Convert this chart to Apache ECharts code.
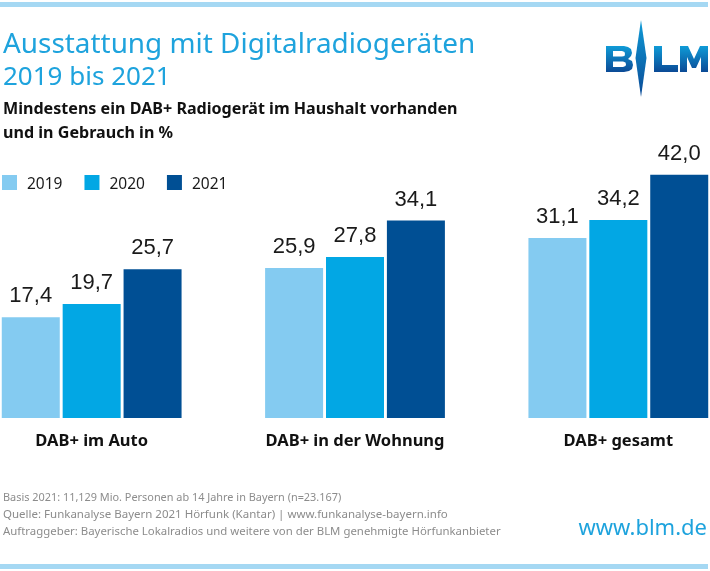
<!DOCTYPE html>
<html>
<head>
<meta charset="utf-8">
<script src="https://cdn.jsdelivr.net/npm/echarts@6/dist/echarts.min.js"></script>
<style>
  html, body { margin: 0; padding: 0; background: #fff; }
  #main { width: 710px; height: 571px; }
</style>
</head>
<body>
<div id="main"></div>
<script>
var categories = ["DAB+ im Auto", "DAB+ in der Wohnung", "DAB+ gesamt"];
var values2019 = [17.4, 25.9, 31.1];
var values2020 = [19.7, 27.8, 34.2];
var values2021 = [25.7, 34.1, 42.0];
var footnotes = [
  "Basis 2021: 11,129 Mio. Personen ab 14 Jahre in Bayern (n=23.167)",
  "Quelle: Funkanalyse Bayern 2021 Hörfunk (Kantar) | www.funkanalyse-bayern.info",
  "Auftraggeber: Bayerische Lokalradios und weitere von der BLM genehmigte Hörfunkanbieter"
];
var font = "Noto Sans";
var logoBlue = new echarts.graphic.LinearGradient(0, 0, 0, 1, [
  { offset: 0, color: "#0f9bd7" },
  { offset: 1, color: "#0b4a96" }
]);

function barSeries(name, data, color) {
  return {
    name: name,
    type: "bar",
    data: data,
    barWidth: 58,
    barGap: "5%",
    itemStyle: { color: color },
    label: {
      show: true,
      position: "top",
      distance: 10,
      color: "#1a1a1a",
      fontFamily: "Liberation Sans",
      fontSize: 22,
      formatter: function (p) { return p.value.toFixed(1).replace(".", ","); }
    }
  };
}

var chart = echarts.init(document.getElementById("main"), null, { renderer: "canvas" });
chart.setOption({
  backgroundColor: "#fff",
  animation: false,
  legend: {
    left: 2,
    top: 175,
    padding: 0,
    itemWidth: 15,
    itemHeight: 15,
    itemGap: 22,
    icon: "rect",
    formatter: "{a|{name}}",
    textStyle: {
      rich: {
        a: { fontFamily: font, fontSize: 15.5, color: "#1a1a1a", padding: [5, 0, 0, 5] }
      }
    },
    data: ["2019", "2020", "2021"]
  },
  grid: { left: -40, right: -40, top: 128.5, height: 289.5, outerBoundsMode: "none" },
  xAxis: {
    type: "category",
    data: categories,
    axisLine: { show: false },
    axisTick: { show: false },
    axisLabel: {
      margin: 15,
      color: "#111",
      fontFamily: font,
      fontWeight: "bold",
      fontSize: 16.5,
      interval: 0
    }
  },
  yAxis: { type: "value", min: 0, max: 50, show: false, splitLine: { show: false } },
  series: [
    barSeries("2019", values2019, "#84cbf1"),
    barSeries("2020", values2020, "#02a7e4"),
    barSeries("2021", values2021, "#004f94")
  ],
  graphic: [
    { type: "rect", left: 0, top: 2, shape: { width: 708, height: 5 }, style: { fill: "#a5d8f3" } },
    { type: "rect", left: 0, top: 564, shape: { width: 708, height: 5 }, style: { fill: "#a5d8f3" } },
    { type: "text", left: 3, top: 31, style: { text: "Ausstattung mit Digitalradiogeräten", fill: "#1ea3dd", font: "27.9px 'Noto Sans'" } },
    { type: "text", left: 3, top: 65, style: { text: "2019 bis 2021", fill: "#1ea3dd", font: "26px 'Noto Sans'" } },
    { type: "text", left: 3, top: 101, style: { text: "Mindestens ein DAB+ Radiogerät im Haushalt vorhanden", fill: "#111", font: "bold 16.1px 'Noto Sans'" } },
    { type: "text", left: 3, top: 125, style: { text: "und in Gebrauch in %", fill: "#111", font: "bold 16.1px 'Noto Sans'" } },
    { type: "text", left: 3, top: 492, style: { text: footnotes[0], fill: "#8c8c8c", font: "10.9px 'Noto Sans'" } },
    { type: "text", left: 3, top: 509, style: { text: footnotes[1], fill: "#8c8c8c", font: "11.5px 'Noto Sans'" } },
    { type: "text", left: 3, top: 526, style: { text: footnotes[2], fill: "#8c8c8c", font: "11.4px 'Noto Sans'" } },
    { type: "text", right: 3, top: 518, style: { text: "www.blm.de", fill: "#1ea3dd", font: "22px 'Noto Sans'" } },
    // logo
    { type: "polygon", shape: { points: [[606, 46], [624, 46], [628, 47], [631, 49], [632, 53], [631, 56], [628, 59], [632, 61], [633, 65], [632, 69], [629, 71], [624, 72], [606, 72]] }, style: { fill: logoBlue } },
    { type: "polygon", shape: { points: [[613, 51], [622, 51], [624.5, 52], [625, 54], [624.5, 56], [622, 56.5], [613, 56.5]] }, style: { fill: "#fff" } },
    { type: "polygon", shape: { points: [[613, 61.5], [623, 61.5], [625.5, 62.5], [626, 64.5], [625.5, 66], [623, 67], [613, 67]] }, style: { fill: "#fff" } },
    { type: "polygon", shape: { points: [[641, 20], [646.5, 58], [641, 97], [635.5, 58]] }, style: { fill: logoBlue } },
    { type: "polygon", shape: { points: [[654, 46], [662, 46], [662, 65], [678, 65], [678, 72], [654, 72]] }, style: { fill: logoBlue } },
    { type: "polygon", shape: { points: [[680, 72], [680, 46], [688, 46], [694, 59], [700, 46], [708, 46], [708, 72], [701, 72], [701, 57], [696, 68], [692, 68], [687, 57], [687, 72]] }, style: { fill: logoBlue } }
  ]
});
window.addEventListener("resize", function () { chart.resize(); });
</script>
</body>
</html>
